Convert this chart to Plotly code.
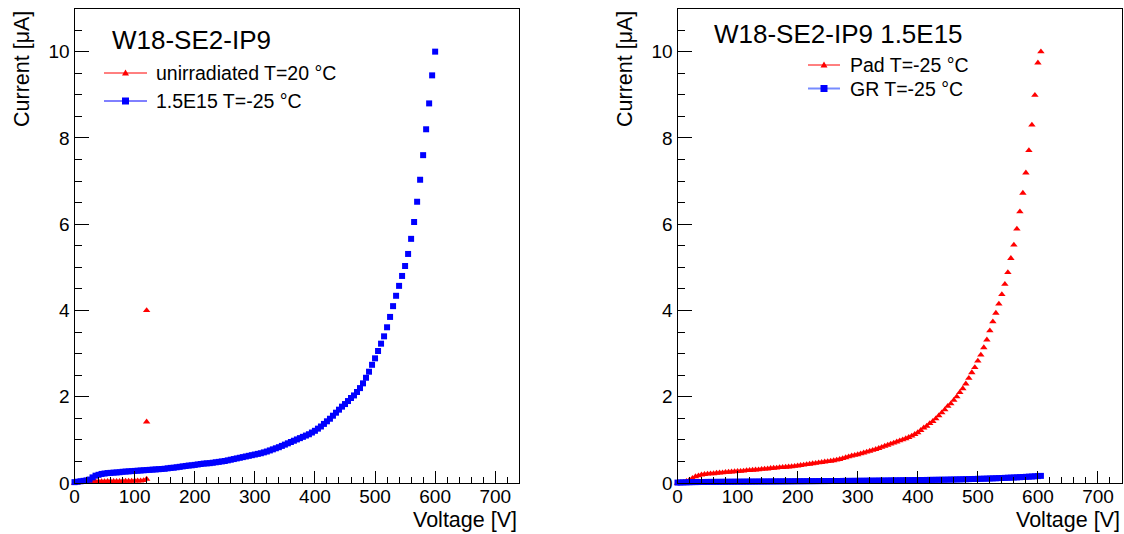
import plotly.graph_objects as go

W, H = 1124, 534

# ---- left panel: W18-SE2-IP9, unirradiated vs 1.5E15 ----
volt_irr = [
    0, 5, 10, 15, 20, 25, 30, 35, 40, 45,
    50, 55, 60, 65, 70, 75, 80, 85, 90, 95,
    100, 105, 110, 115, 120, 125, 130, 135, 140, 145,
    150, 155, 160, 165, 170, 175, 180, 185, 190, 195,
    200, 205, 210, 215, 220, 225, 230, 235, 240, 245,
    250, 255, 260, 265, 270, 275, 280, 285, 290, 295,
    300, 305, 310, 315, 320, 325, 330, 335, 340, 345,
    350, 355, 360, 365, 370, 375, 380, 385, 390, 395,
    400, 405, 410, 415, 420, 425, 430, 435, 440, 445,
    450, 455, 460, 465, 470, 475, 480, 485, 490, 495,
    500, 505, 510, 515, 520, 525, 530, 535, 540, 545,
    550, 555, 560, 565, 570, 575, 580, 585, 590, 595,
    600,
]
curr_irr = [
    0.02, 0.03, 0.04, 0.05, 0.06, 0.08, 0.13, 0.17, 0.19, 0.21,
    0.22, 0.23, 0.235, 0.24, 0.245, 0.25, 0.26, 0.265, 0.27, 0.275,
    0.28, 0.285, 0.29, 0.295, 0.30, 0.305, 0.31, 0.315, 0.32, 0.325,
    0.33, 0.34, 0.35, 0.355, 0.365, 0.375, 0.385, 0.395, 0.405, 0.41,
    0.42, 0.43, 0.44, 0.45, 0.455, 0.46, 0.47, 0.48, 0.49, 0.50,
    0.51, 0.525, 0.54, 0.555, 0.57, 0.585, 0.60, 0.615, 0.63, 0.645,
    0.66, 0.675, 0.69, 0.71, 0.73, 0.755, 0.78, 0.805, 0.83, 0.86,
    0.89, 0.92, 0.95, 0.98, 1.01, 1.04, 1.07, 1.10, 1.13, 1.17,
    1.21, 1.26, 1.31, 1.37, 1.43, 1.49, 1.56, 1.63, 1.70, 1.77,
    1.83, 1.90, 1.97, 2.03, 2.11, 2.20, 2.31, 2.44, 2.58, 2.74,
    2.89, 3.06, 3.23, 3.40, 3.61, 3.85, 4.10, 4.34, 4.57, 4.80,
    5.03, 5.31, 5.66, 6.05, 6.52, 7.03, 7.60, 8.20, 8.80, 9.45,
    10.0,
]
volt_unirr = [
    0, 5, 10, 15, 20, 25, 30, 35, 40, 45,
    50, 55, 60, 65, 70, 75, 80, 85, 90, 95,
    100, 105, 110, 115, 120, 120, 120,
]
curr_unirr = [
    0.0, 0.01, 0.015, 0.02, 0.025, 0.03, 0.03, 0.035, 0.035, 0.035,
    0.035, 0.04, 0.04, 0.04, 0.04, 0.04, 0.045, 0.045, 0.045, 0.045,
    0.05, 0.05, 0.05, 0.06, 0.09, 1.42, 4.0,
]

# ---- right panel: W18-SE2-IP9 1.5E15, pad vs guard ring ----
volt_r = [
    0, 5, 10, 15, 20, 25, 30, 35, 40, 45,
    50, 55, 60, 65, 70, 75, 80, 85, 90, 95,
    100, 105, 110, 115, 120, 125, 130, 135, 140, 145,
    150, 155, 160, 165, 170, 175, 180, 185, 190, 195,
    200, 205, 210, 215, 220, 225, 230, 235, 240, 245,
    250, 255, 260, 265, 270, 275, 280, 285, 290, 295,
    300, 305, 310, 315, 320, 325, 330, 335, 340, 345,
    350, 355, 360, 365, 370, 375, 380, 385, 390, 395,
    400, 405, 410, 415, 420, 425, 430, 435, 440, 445,
    450, 455, 460, 465, 470, 475, 480, 485, 490, 495,
    500, 505, 510, 515, 520, 525, 530, 535, 540, 545,
    550, 555, 560, 565, 570, 575, 580, 585, 590, 595,
    600, 605,
]
curr_pad = [
    0.0, 0.01, 0.02, 0.04, 0.07, 0.11, 0.15, 0.17, 0.19, 0.20,
    0.21, 0.215, 0.22, 0.23, 0.235, 0.24, 0.25, 0.255, 0.26, 0.265,
    0.27, 0.275, 0.28, 0.29, 0.295, 0.30, 0.305, 0.31, 0.32, 0.325,
    0.33, 0.34, 0.345, 0.35, 0.36, 0.365, 0.37, 0.375, 0.38, 0.39,
    0.40, 0.41, 0.42, 0.43, 0.44, 0.45, 0.46, 0.47, 0.48, 0.49,
    0.50, 0.51, 0.52, 0.535, 0.55, 0.57, 0.59, 0.61, 0.63, 0.645,
    0.66, 0.68, 0.70, 0.72, 0.74, 0.76, 0.78, 0.805, 0.83, 0.855,
    0.88, 0.905, 0.93, 0.955, 0.98, 1.005, 1.03, 1.06, 1.09, 1.13,
    1.17, 1.22, 1.28, 1.32, 1.38, 1.43, 1.49, 1.56, 1.63, 1.70,
    1.78, 1.84, 1.92, 2.00, 2.10, 2.19, 2.30, 2.43, 2.56, 2.68,
    2.83, 2.97, 3.14, 3.32, 3.53, 3.74, 3.94, 4.15, 4.37, 4.61,
    4.88, 5.21, 5.52, 5.89, 6.29, 6.72, 7.19, 7.71, 8.30, 8.99,
    9.74, 10.0,
]
curr_gr = [
    0.010, 0.012, 0.014, 0.016, 0.018, 0.020, 0.021, 0.022, 0.023, 0.024,
    0.025, 0.026, 0.026, 0.027, 0.027, 0.028, 0.028, 0.029, 0.029, 0.030,
    0.030, 0.031, 0.031, 0.032, 0.032, 0.033, 0.033, 0.034, 0.034, 0.035,
    0.035, 0.036, 0.036, 0.037, 0.037, 0.038, 0.038, 0.039, 0.039, 0.040,
    0.040, 0.041, 0.041, 0.042, 0.042, 0.043, 0.043, 0.044, 0.044, 0.045,
    0.045, 0.046, 0.046, 0.047, 0.047, 0.048, 0.049, 0.049, 0.050, 0.050,
    0.051, 0.052, 0.052, 0.053, 0.054, 0.054, 0.055, 0.056, 0.056, 0.057,
    0.058, 0.059, 0.060, 0.061, 0.062, 0.063, 0.064, 0.065, 0.066, 0.067,
    0.068, 0.069, 0.070, 0.071, 0.072, 0.073, 0.074, 0.075, 0.076, 0.077,
    0.078, 0.080, 0.081, 0.083, 0.084, 0.086, 0.088, 0.090, 0.092, 0.094,
    0.096, 0.098, 0.100, 0.102, 0.105, 0.107, 0.110, 0.113, 0.116, 0.119,
    0.122, 0.125, 0.128, 0.131, 0.135, 0.139, 0.143, 0.147, 0.151, 0.155,
    0.160, 0.165,
]

x_ticks = [0, 100, 200, 300, 400, 500, 600, 700]
y_ticks = [0, 2, 4, 6, 8, 10]

# legend texts, one block per pad
legend_left = ["unirradiated T=20 °C", "1.5E15 T=-25 °C"]
legend_right = ["Pad T=-25 °C", "GR T=-25 °C"]

RED = "#ff0000"
BLUE = "#0000ff"
FONT = "Liberation Sans, Arial, Helvetica, sans-serif"


def px_x(p):
    return p / W


def px_y(p):
    return 1 - p / H


fig = go.Figure()

fig.add_trace(go.Scatter(x=volt_unirr, y=curr_unirr, mode="markers", xaxis="x", yaxis="y",
                         name=legend_left[0],
                         marker=dict(symbol="triangle-up", size=6.5, color=RED, line=dict(width=0)),
                         showlegend=False, cliponaxis=False))
fig.add_trace(go.Scatter(x=volt_irr, y=curr_irr, mode="markers", xaxis="x", yaxis="y",
                         name=legend_left[1],
                         marker=dict(symbol="square", size=6, color=BLUE, line=dict(width=0)),
                         showlegend=False, cliponaxis=False))
fig.add_trace(go.Scatter(x=volt_r, y=curr_pad, mode="markers", xaxis="x2", yaxis="y2",
                         name=legend_right[0],
                         marker=dict(symbol="triangle-up", size=6.5, color=RED, line=dict(width=0)),
                         showlegend=False, cliponaxis=False))
fig.add_trace(go.Scatter(x=volt_r, y=curr_gr, mode="markers", xaxis="x2", yaxis="y2",
                         name=legend_right[1],
                         marker=dict(symbol="square", size=6, color=BLUE, line=dict(width=0)),
                         showlegend=False, cliponaxis=False))

axis_common = dict(
    showgrid=False, zeroline=False, showline=True, linecolor="black", linewidth=1,
    mirror=True, ticks="inside", tickcolor="black", automargin=False,
    tickfont=dict(family=FONT, size=19, color="black"),
)

x_left = (px_x(74.5), px_x(519.3))
x_right = (px_x(677.5), px_x(1122))
y_dom = (px_y(483), px_y(8.5))

fig.update_layout(
    width=W, height=H, autosize=False,
    margin=dict(l=0, r=0, t=0, b=0, pad=0, autoexpand=False),
    paper_bgcolor="white", plot_bgcolor="white",
    font=dict(family=FONT, color="black"),
    showlegend=False,
    xaxis=dict(domain=list(x_left), range=[0, 740], tickvals=x_ticks, ticklen=12,
               ticklabelstandoff=-4,
               minor=dict(dtick=20, tick0=0, ticks="inside", ticklen=6, tickcolor="black"),
               anchor="y", **axis_common),
    yaxis=dict(domain=list(y_dom), range=[0, 11], tickvals=y_ticks, ticklen=14,
               minor=dict(dtick=0.5, tick0=0, ticks="inside", ticklen=7, tickcolor="black"),
               anchor="x", **axis_common),
    xaxis2=dict(domain=list(x_right), range=[0, 740], tickvals=x_ticks, ticklen=12,
                ticklabelstandoff=-4,
                minor=dict(dtick=20, tick0=0, ticks="inside", ticklen=6, tickcolor="black"),
                anchor="y2", **axis_common),
    yaxis2=dict(domain=list(y_dom), range=[0, 11], tickvals=y_ticks, ticklen=14,
                minor=dict(dtick=0.5, tick0=0, ticks="inside", ticklen=7, tickcolor="black"),
                anchor="x2", **axis_common),
)

annotations = [
    dict(text="W18-SE2-IP9", x=px_x(110), y=px_y(40), xanchor="left", yanchor="middle",
         font=dict(size=26)),
    dict(text="W18-SE2-IP9 1.5E15", x=px_x(712), y=px_y(34), xanchor="left", yanchor="middle",
         font=dict(size=26)),
    dict(text="Voltage [V]", x=px_x(519), y=px_y(520), xanchor="right", yanchor="middle",
         font=dict(size=21.5)),
    dict(text="Voltage [V]", x=px_x(1122), y=px_y(520), xanchor="right", yanchor="middle",
         font=dict(size=21.5)),
    dict(text="Current [μA]", x=px_x(22), y=px_y(9), xanchor="center", yanchor="top",
         textangle=-90, font=dict(size=21.5)),
    dict(text="Current [μA]", x=px_x(625), y=px_y(9), xanchor="center", yanchor="top",
         textangle=-90, font=dict(size=21.5)),
]

# legend boxes drawn as key line + marker + label
shapes = []


def legend_entry(label, xl0, xl1, yc, xt, color, line_color, line_w, symbol):
    shapes.append(dict(type="line", xref="paper", yref="paper",
                       x0=px_x(xl0), x1=px_x(xl1), y0=px_y(yc), y1=px_y(yc),
                       line=dict(color=line_color, width=line_w)))
    xm = (xl0 + xl1) / 2
    if symbol == "triangle":
        path = "M{},{} L{},{} L{},{} Z".format(
            px_x(xm - 3.5), px_y(yc + 2.5), px_x(xm + 3.5), px_y(yc + 2.5), px_x(xm), px_y(yc - 3.5))
    else:
        path = "M{},{} L{},{} L{},{} L{},{} Z".format(
            px_x(xm - 3.5), px_y(yc + 3.5), px_x(xm + 3.5), px_y(yc + 3.5),
            px_x(xm + 3.5), px_y(yc - 3.5), px_x(xm - 3.5), px_y(yc - 3.5))
    shapes.append(dict(type="path", xref="paper", yref="paper", path=path,
                       fillcolor=color, line=dict(width=0)))
    annotations.append(dict(text=label, x=px_x(xt), y=px_y(yc), xanchor="left",
                            yanchor="middle", font=dict(size=19.5)))


legend_entry(legend_left[0], 104, 147, 73, 154, RED, RED, 1, "triangle")
legend_entry(legend_left[1], 104, 147, 101, 154, BLUE, BLUE, 1, "square")
legend_entry(legend_right[0], 808, 840, 65, 848, RED, RED, 1, "triangle")
legend_entry(legend_right[1], 808, 840, 88.5, 848, BLUE, "rgba(60,90,255,0.7)", 2, "square")

for a in annotations:
    a.update(xref="paper", yref="paper", showarrow=False)
    a["font"].update(family=FONT, color="black")
fig.update_layout(annotations=annotations, shapes=shapes)

fig.write_html("out.html")
